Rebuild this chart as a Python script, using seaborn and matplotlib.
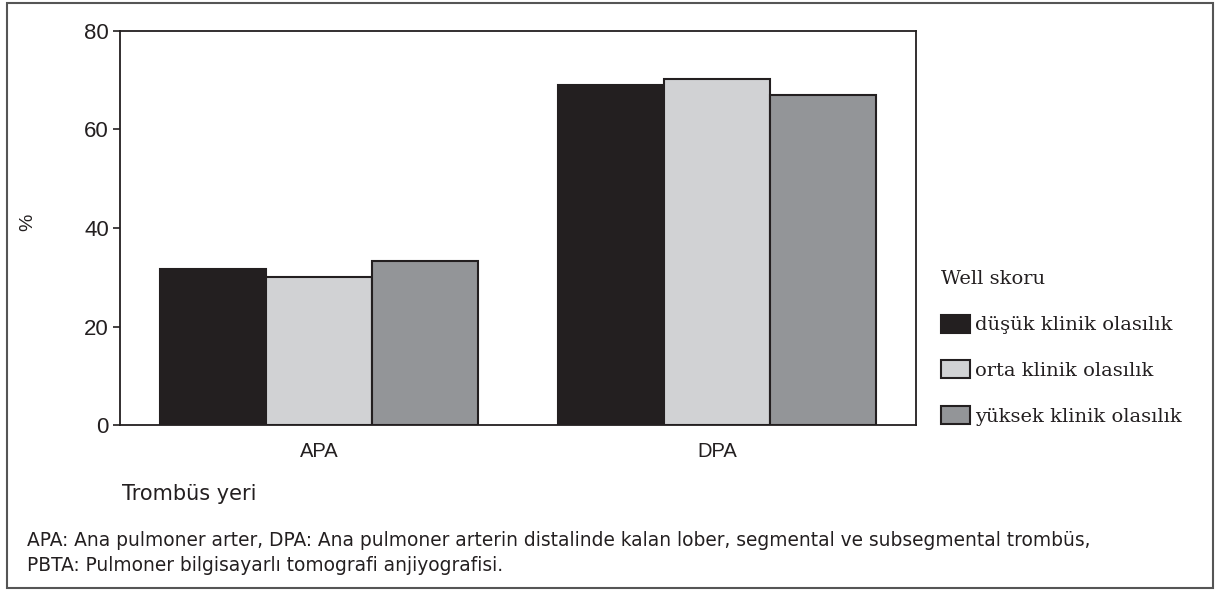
import numpy as np
import pandas as pd
import matplotlib
matplotlib.use("Agg")
import matplotlib.pyplot as plt
import seaborn as sns
from matplotlib.patches import Rectangle, Patch

# data
locations = ["APA", "DPA"]
groups = ["düşük klinik olasılık", "orta klinik olasılık", "yüksek klinik olasılık"]
values_low = [31.6, 69.1]
values_mid = [30.0, 70.2]
values_high = [33.3, 67.0]
colors = ["#231f20", "#d1d2d4", "#939598"]

df = pd.DataFrame({
    "yer": locations * 3,
    "grup": [groups[0]] * 2 + [groups[1]] * 2 + [groups[2]] * 2,
    "deger": values_low + values_mid + values_high,
})

sns.set_style("white")
plt.rcParams["font.family"] = ["Liberation Sans", "DejaVu Sans"]
plt.rcParams["text.color"] = "#231f20"
plt.rcParams["xtick.color"] = "#231f20"
plt.rcParams["ytick.color"] = "#231f20"

fig = plt.figure(figsize=(12.17, 5.92), dpi=100)
ax = fig.add_axes([0.0986, 0.282, 0.654, 0.6659])

sns.barplot(data=df, x="yer", y="deger", hue="grup", hue_order=groups,
            palette=colors, edgecolor="#231f20", linewidth=1.5,
            saturation=1, ax=ax, legend=False)

ax.set_ylim(0, 80)
ax.set_xlim(-0.5, 1.5)
ax.set_yticks([0, 20, 40, 60, 80])
ax.tick_params(axis="y", labelsize=16, length=5, width=1.2, color="#231f20",
               left=True, pad=3)
ax.tick_params(axis="x", labelsize=14.5, length=0, pad=12)
ax.set_xlabel("")
ax.set_ylabel("")
for s in ax.spines.values():
    s.set_color("#231f20")
    s.set_linewidth(1.3)

# axis titles placed by hand like in the source figure
fig.text(0.023, 0.625, "%", rotation=90, fontsize=14, ha="center", va="center")
fig.text(0.100, 0.165, "Trombüs yeri", fontsize=15, ha="left", va="center",
         family="DejaVu Sans")

handles = [Patch(facecolor=c, edgecolor="#231f20", linewidth=1.5) for c in colors]
leg = fig.legend(handles, groups, title="Well skoru", loc="upper left",
                 bbox_to_anchor=(0.759, 0.573), frameon=False,
                 prop={"family": "DejaVu Serif", "size": 14},
                 title_fontproperties={"family": "DejaVu Serif", "size": 14},
                 handlelength=1.5, handleheight=1.05, handletextpad=0.25,
                 labelspacing=1.35)
leg._legend_box.align = "left"

foot = ("APA: Ana pulmoner arter, DPA: Ana pulmoner arterin distalinde kalan lober, "
        "segmental ve subsegmental trombüs,\nPBTA: Pulmoner bilgisayarlı tomografi anjiyografisi.")
fig.text(0.022, 0.066, foot, fontsize=13.4, ha="left", va="center",
         linespacing=1.45, family="DejaVu Sans")

# outer frame
fig.patches.append(Rectangle((0.006, 0.007), 0.991, 0.988, transform=fig.transFigure,
                             fill=False, edgecolor="#555555", linewidth=1.5))

fig.savefig("out.png", dpi=100)
